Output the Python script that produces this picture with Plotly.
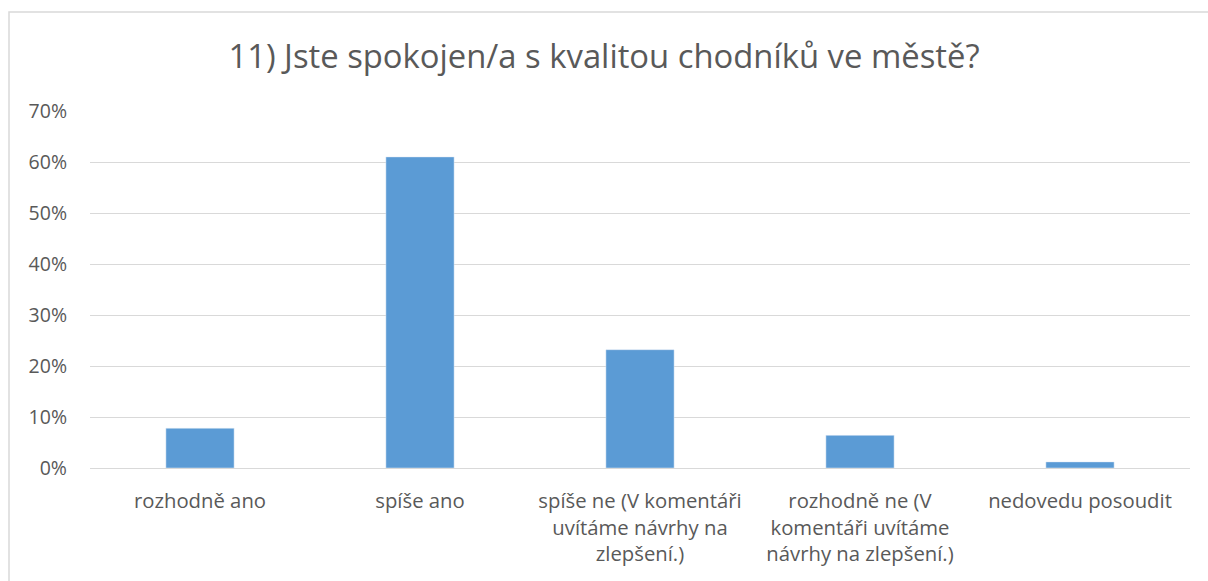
import plotly.graph_objects as go

categories = [
    "rozhodně ano",
    "spíše ano",
    "spíše ne (V komentáři<br>uvítáme návrhy na<br>zlepšení.)",
    "rozhodně ne (V<br>komentáři uvítáme<br>návrhy na zlepšení.)",
    "nedovedu posoudit",
]
values = [0.078, 0.610, 0.232, 0.064, 0.012]
tick_vals = [0, 0.1, 0.2, 0.3, 0.4, 0.5, 0.6, 0.7]
tick_text = ["0%", "10%", "20%", "30%", "40%", "50%", "60%", "70%"]
title = "11) Jste spokojen/a s kvalitou chodníků ve městě?"

W, H = 1208, 581
L, R, T, B = 90, 18, 111, 113
pw, ph = W - L - R, H - T - B

fig = go.Figure(go.Bar(x=categories, y=values, marker_color="#5B9BD5", width=0.31,
                       hoverinfo="skip"))

fig.update_layout(
    width=W, height=H,
    margin=dict(l=L, r=R, t=T, b=B, pad=0),
    paper_bgcolor="white", plot_bgcolor="white",
    font=dict(family="Open Sans", color="#595959", size=19),
    title=dict(text=title, x=0.5, xanchor="center", y=1 - 57 / H, yanchor="middle",
               font=dict(size=32.8, color="#595959")),
    showlegend=False,
)
fig.update_xaxes(showgrid=False, showline=False, ticks="", ticklabelstandoff=19,
                 tickfont=dict(size=20.3, color="#595959"))
fig.update_yaxes(range=[0, 0.7], tickvals=tick_vals, ticktext=tick_text, showgrid=True,
                 gridcolor="#D9D9D9", gridwidth=1, zeroline=True, zerolinecolor="#D9D9D9",
                 zerolinewidth=1, showline=False, ticks="", ticklabelstandoff=22,
                 tickfont=dict(size=19.5, color="#595959"))

fig.add_shape(type="rect", xref="paper", yref="paper",
              x0=(9 - L) / pw, x1=(W + 5 - L) / pw,
              y0=-(H + 5 - (H - B)) / ph, y1=(H - B - 12) / ph,
              line=dict(color="#D9D9D9", width=1.5), fillcolor="rgba(0,0,0,0)", layer="below")

fig.write_html("out.html", config={"displayModeBar": False},
               post_script="document.body.style.margin='0';")
